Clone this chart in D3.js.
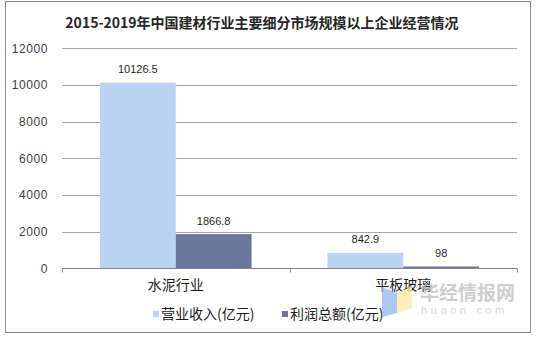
<!DOCTYPE html>
<html><head><meta charset="utf-8">
<script src="https://cdn.jsdelivr.net/npm/d3@7/dist/d3.min.js"></script>
<style>body{margin:0;background:#fff}svg{display:block}</style>
</head><body>
<svg id="c" width="536" height="337"></svg>
<script>
const title = "2015-2019年中国建材行业主要细分市场规模以上企业经营情况";
const categories = ["水泥行业", "平板玻璃"];
const seriesNames = ["营业收入(亿元)", "利润总额(亿元)"];
const revenue = [10126.5, 842.9];
const profit = [1866.8, 98];
const yTicks = [0, 2000, 4000, 6000, 8000, 10000, 12000];
const colors = ["#B9D3F0", "#68779B"];

const cjk = "'Noto Sans CJK SC', sans-serif";
const num = "'Liberation Sans', Arial, sans-serif";
const svg = d3.select("#c");
svg.append("rect").attr("x",0).attr("y",0).attr("width",536).attr("height",337).attr("fill","#fff");
svg.append("rect").attr("x",5.5).attr("y",1.5).attr("width",525).attr("height",331)
  .attr("fill","none").attr("stroke","#8c8c8c").attr("stroke-width",1);

const L=62, R=517, T=48.3, B=268.3;
const y = d3.scaleLinear().domain([0,12000]).range([B,T]);
const x0 = d3.scaleBand().domain(categories).range([L,R]).paddingInner(0).paddingOuter(0);
const x1 = d3.scaleBand().domain([0,1]).range([0,x0.bandwidth()]).paddingInner(0).paddingOuter(0.5);

// gridlines
svg.append("g").selectAll("line").data(yTicks.filter(d=>d>0)).join("line")
  .attr("x1",L).attr("x2",R).attr("y1",d=>Math.round(y(d))+0.5).attr("y2",d=>Math.round(y(d))+0.5)
  .attr("stroke","#a6a6a6");

// y labels
svg.append("g").selectAll("text").data(yTicks).join("text")
  .attr("x",48).attr("y",d=>y(d)+4.5).attr("text-anchor","end")
  .attr("font-family",num).attr("font-size",12).attr("letter-spacing",0.6).attr("fill","#404040")
  .text(d=>d);

// bars
const data = categories.map((c,i)=>({c, v:[revenue[i], profit[i]]}));
const g = svg.append("g");
data.forEach(d=>{
  d.v.forEach((v,j)=>{
    const bx = x0(d.c)+x1(j);
    g.append("rect").attr("x",bx).attr("y",y(v)).attr("width",x1.bandwidth()).attr("height",B-y(v)).attr("fill",colors[j]);
    g.append("text").attr("x",bx+x1.bandwidth()/2).attr("y",y(v)-9.5).attr("text-anchor","middle")
      .attr("font-family",num).attr("font-size",11).attr("fill","#262626").text(v);
  });
});

// x axis
const xa = svg.append("g");
xa.append("line").attr("x1",L).attr("x2",R).attr("y1",Math.round(B)+0.5).attr("y2",Math.round(B)+0.5).attr("stroke","#868686");
const tickX = [L, ...categories.slice(1).map(c=>x0(c)), R];
xa.selectAll("line.t").data(tickX).join("line").attr("class","t")
  .attr("x1",d=>Math.round(d)+0.5).attr("x2",d=>Math.round(d)+0.5)
  .attr("y1",Math.round(B)+0.5).attr("y2",Math.round(B)+4.5).attr("stroke","#868686");
xa.selectAll("text").data(categories).join("text")
  .attr("x",d=>x0(d)+x0.bandwidth()/2).attr("y",290).attr("text-anchor","middle")
  .attr("font-family",cjk).attr("font-size",14).attr("fill","#1a1a1a").text(d=>d);

// title
svg.append("text").attr("x",262).attr("y",28).attr("text-anchor","middle")
  .attr("font-family",cjk).attr("font-weight","bold").attr("font-size",14).attr("fill","#262626").text(title);

// legend
const lx = [153, 282];
seriesNames.forEach((s,i)=>{
  svg.append("rect").attr("x",lx[i]).attr("y",311).attr("width",6).attr("height",6).attr("fill",colors[i]);
  svg.append("text").attr("x",lx[i]+8).attr("y",319).attr("font-family",cjk).attr("font-size",14)
    .attr("fill","#1a1a1a").text(s);
});

// watermark
const wm = svg.append("g").attr("opacity",0.75);
wm.append("polygon").attr("points","382,287 397,293 397,313 382,317").attr("fill","#8fb8f5");
wm.append("polygon").attr("points","397,293 412,286 412,308 397,313").attr("fill","#fdeaa0");
wm.append("text").attr("x",420).attr("y",300).attr("font-family",cjk).attr("font-weight","bold")
  .attr("font-size",19).attr("fill","#bdbdbd").text("华经情报网");
wm.append("text").attr("x",421).attr("y",314).attr("font-family",num)
  .attr("font-size",11).attr("letter-spacing",3.6).attr("fill","#c8c8c8").text("huaon.com");
</script>
</body></html>
